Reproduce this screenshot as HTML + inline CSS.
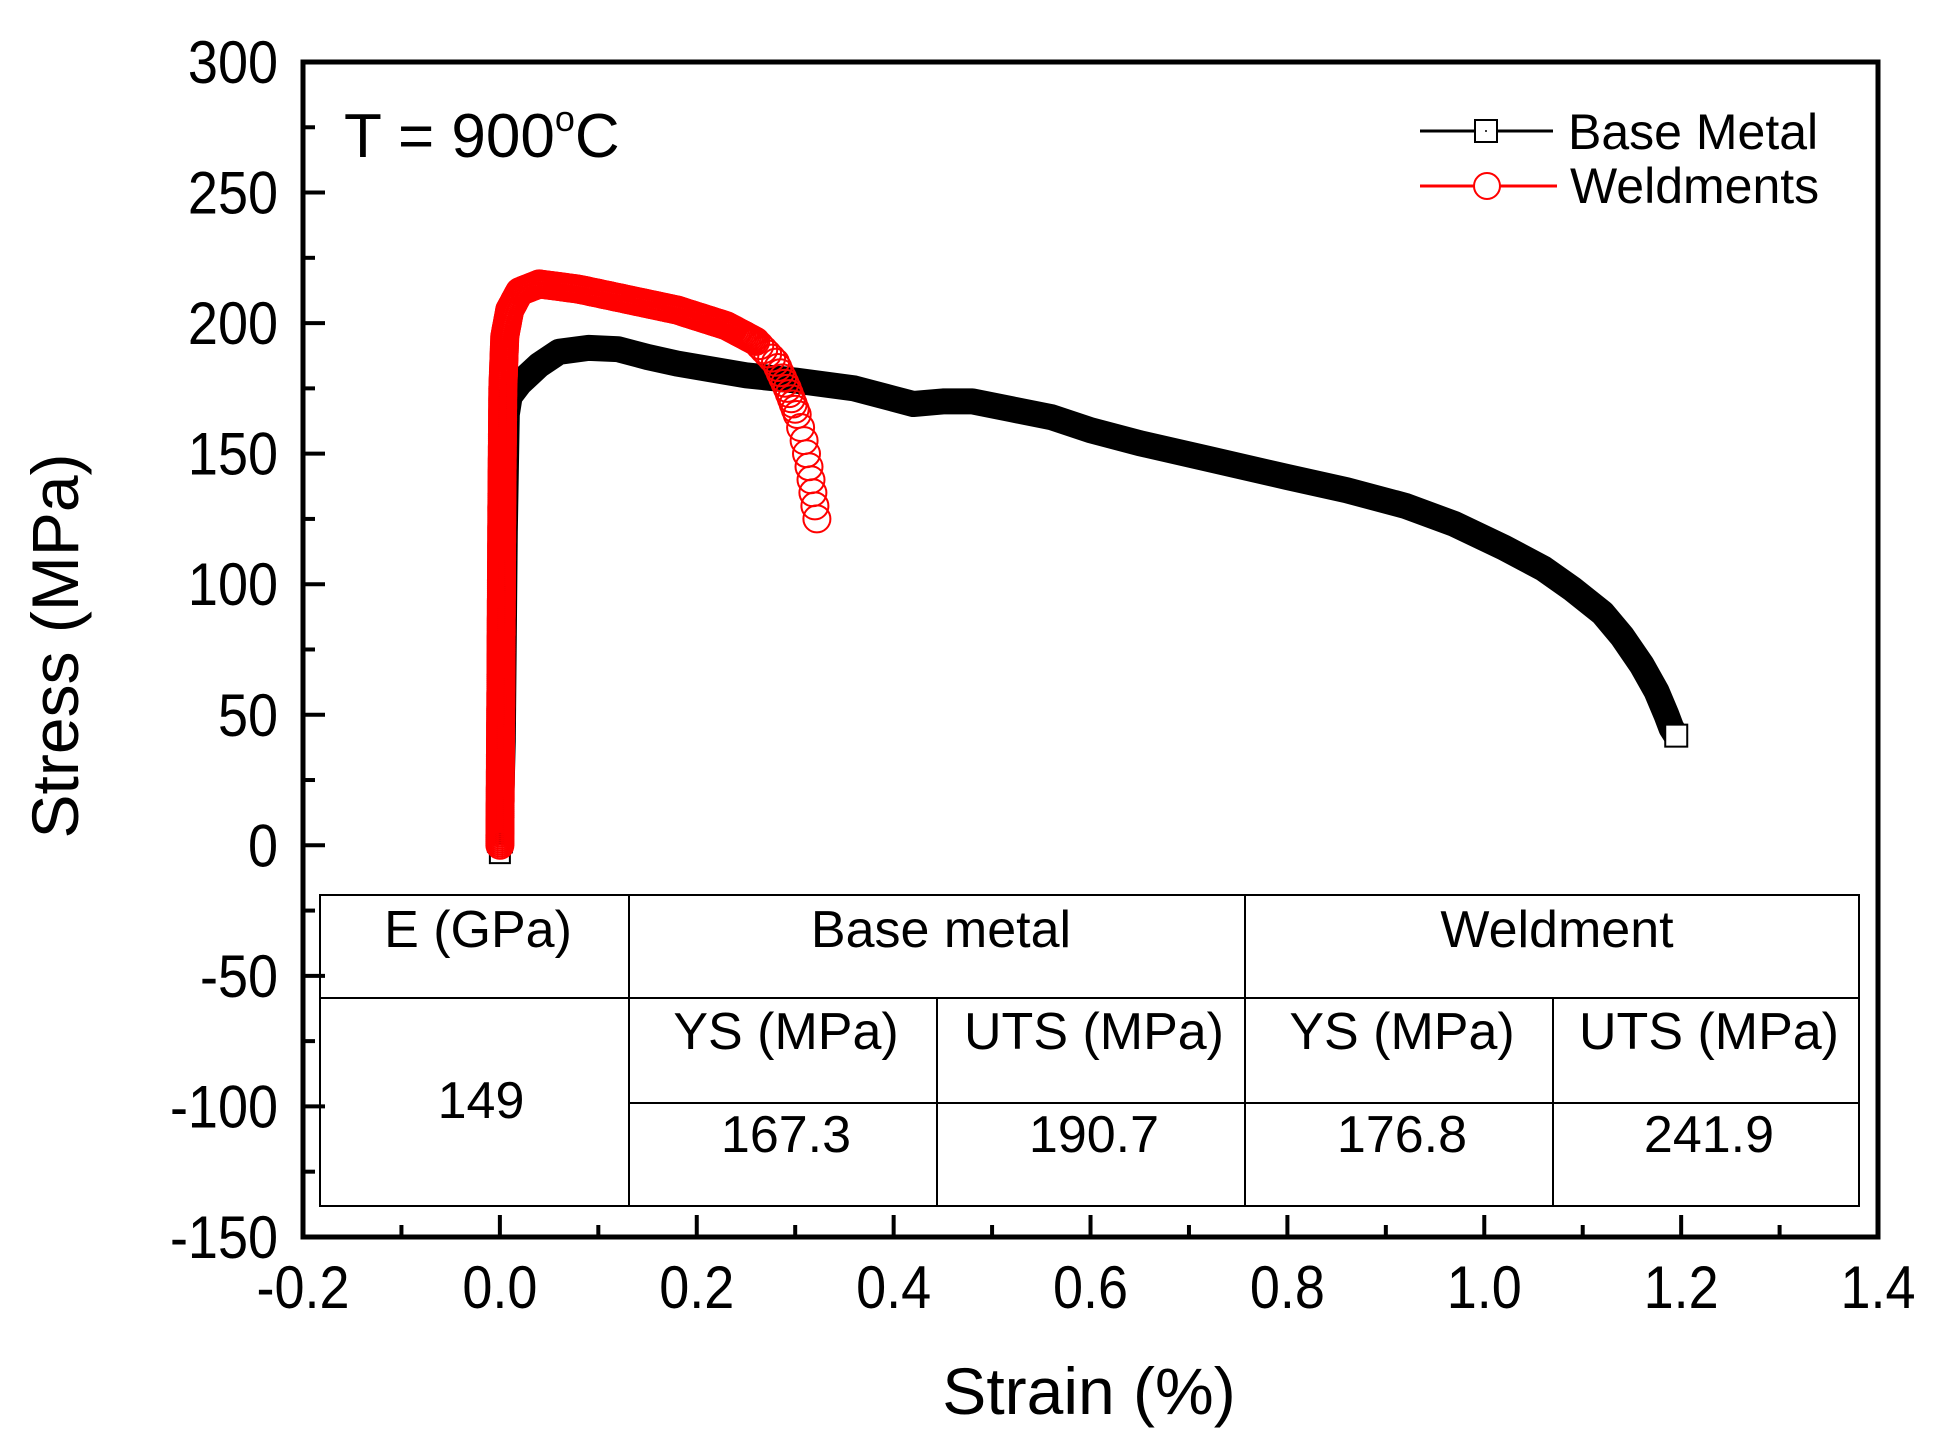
<!DOCTYPE html>
<html><head><meta charset="utf-8"><style>
html,body{margin:0;padding:0;background:#fff;}
svg{display:block;}
text{font-family:"Liberation Sans",Arial,sans-serif;fill:#000;}
</style></head><body>
<svg id="s" width="1942" height="1441" viewBox="0 0 1942 1441" xmlns="http://www.w3.org/2000/svg">
<rect width="1942" height="1441" fill="#fff"/>
<g id="data"></g>
<!-- table -->
<g stroke="#000" stroke-width="2" fill="none">
<rect x="320" y="895" width="1539" height="311"/>
<line x1="320" y1="998" x2="1859" y2="998"/>
<line x1="629" y1="1103" x2="1859" y2="1103"/>
<line x1="629" y1="895" x2="629" y2="1206"/>
<line x1="1245" y1="895" x2="1245" y2="1206"/>
<line x1="937" y1="998" x2="937" y2="1206"/>
<line x1="1553" y1="998" x2="1553" y2="1206"/>
</g>
<g font-size="52" text-anchor="middle">
<text x="478" y="947">E (GPa)</text>
<text x="941" y="947">Base metal</text>
<text x="1557" y="947">Weldment</text>
<text x="786" y="1049">YS (MPa)</text>
<text x="1094" y="1049">UTS (MPa)</text>
<text x="1402" y="1049">YS (MPa)</text>
<text x="1709" y="1049">UTS (MPa)</text>
<text x="481" y="1118">149</text>
<text x="786" y="1152">167.3</text>
<text x="1094" y="1152">190.7</text>
<text x="1402" y="1152">176.8</text>
<text x="1709" y="1152">241.9</text>
</g>
<!-- axes -->
<rect x="303" y="62" width="1575" height="1175" fill="none" stroke="#000" stroke-width="5"/>
<g id="ticks" stroke="#000" stroke-width="4"></g>
<g id="labels" font-size="60"></g>
<text x="344" y="157" font-size="62">T = 900<tspan font-size="36" dy="-26">o</tspan><tspan dy="26">C</tspan></text>
<!-- legend -->
<line x1="1420" y1="131" x2="1553" y2="131" stroke="#000" stroke-width="3"/>
<rect x="1475" y="120" width="22" height="22" fill="#fff" stroke="#000" stroke-width="2"/>
<circle cx="1486" cy="131" r="1" fill="#000"/>
<line x1="1420" y1="186" x2="1557" y2="186" stroke="#f00" stroke-width="3"/>
<circle cx="1487" cy="186" r="13" fill="#fff" stroke="#f00" stroke-width="2"/>
<text x="1568" y="149" font-size="50">Base Metal</text>
<text x="1570" y="203" font-size="50">Weldments</text>
<text x="1089" y="1414" font-size="66" text-anchor="middle">Strain (%)</text>
<text transform="translate(78,646) rotate(-90)" font-size="66" text-anchor="middle">Stress (MPa)</text>
</svg>
<script>
var NS="http://www.w3.org/2000/svg";
function X(v){return 303+(v+0.2)*984.4;}
function Y(v){return 62+(300-v)*2.611;}
function el(tag,a,p){var e=document.createElementNS(NS,tag);for(var k in a)e.setAttribute(k,a[k]);p.appendChild(e);return e;}
var tk=document.getElementById('ticks'),lb=document.getElementById('labels'),dg=document.getElementById('data');
for(var v=-150;v<=300;v+=25){var y=Y(v);var L=(v%50==0)?22:12;if(v!=300&&v!=-150)el('line',{x1:303,y1:y,x2:303+L,y2:y},tk);
 if(v%50==0){var t=el('text',{transform:'translate(278,'+(y+21)+') scale(0.9,1)','text-anchor':'end'},lb);t.textContent=v;}}
for(var i=-2;i<=14;i++){var v=i/10,x=X(v),L=(i%2==0)?22:12;if(i!=-2&&i!=14)el('line',{x1:x,y1:1237,x2:x,y2:1237-L},tk);
 if(i%2==0){var t=el('text',{transform:'translate('+x+',1308) scale(0.9,1)','text-anchor':'middle'},lb);t.textContent=(v<0?'-':'')+Math.abs(v).toFixed(1);}}
// base metal
var bm=[[0.0,-3],[0.003,40],[0.005,120],[0.007,165],[0.01,172],[0.02,177],[0.04,184],[0.06,189],[0.09,190.5],[0.12,190],[0.15,187],[0.18,184.5],[0.25,180],[0.3,178],[0.36,175],[0.40,171],[0.42,169],[0.45,170],[0.48,170],[0.52,167],[0.56,164],[0.6,159],[0.65,154],[0.72,148],[0.8,141],[0.86,136],[0.92,130],[0.97,123],[1.02,114],[1.06,106],[1.09,98],[1.12,89],[1.14,80],[1.16,69],[1.175,59],[1.185,50],[1.19,45],[1.195,42]];
var d='M'+bm.map(function(p){return X(p[0]).toFixed(1)+','+Y(p[1]).toFixed(1);}).join(' L');
el('path',{d:d,fill:'none',stroke:'#000','stroke-width':26,'stroke-linejoin':'round'},dg);
el('rect',{x:X(0.0)-10,y:Y(-3)-10,width:20,height:20,fill:'#fff',stroke:'#000','stroke-width':2},dg);
el('rect',{x:X(1.195)-11,y:Y(42)-11,width:22,height:22,fill:'#fff',stroke:'#000','stroke-width':2},dg);
// weldment
var wd=[[0.0,0],[0.001,60],[0.002,130],[0.003,175],[0.005,195],[0.01,205],[0.02,212],[0.04,215],[0.08,213],[0.13,209],[0.18,205],[0.23,199],[0.26,193],[0.28,185],[0.292,175],[0.302,165],[0.309,155],[0.314,145],[0.318,135],[0.322,125]];
var pts=[];for(var i=0;i<wd.length-1;i++){var a=wd[i],b=wd[i+1];var x1=X(a[0]),y1=Y(a[1]),x2=X(b[0]),y2=Y(b[1]);var len=Math.hypot(x2-x1,y2-y1);var step=(i>=wd.length-8)?(i>=wd.length-5?12:6):2;var n=Math.max(1,Math.round(len/step));for(var k=0;k<n;k++){pts.push([x1+(x2-x1)*k/n,y1+(y2-y1)*k/n]);}}
pts.push([X(0.322),Y(125)]);
pts.forEach(function(p){el('circle',{cx:p[0].toFixed(1),cy:p[1].toFixed(1),r:13.5,fill:'none',stroke:'#f00','stroke-width':2},dg);});
</script>
</body></html>
